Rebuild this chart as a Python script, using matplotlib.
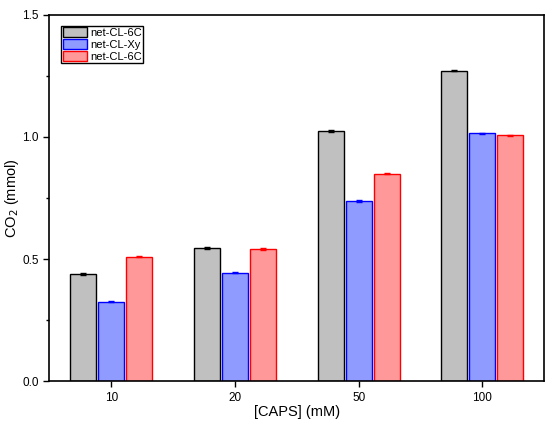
import numpy as np
import matplotlib.pyplot as plt
from matplotlib.ticker import MultipleLocator

plt.rcParams['font.family'] = ['Liberation Sans', 'DejaVu Sans']

caps = ["10", "20", "50", "100"]
cl6c_a = [0.439, 0.546, 1.025, 1.271]
cl6c_a_err = [0.003, 0.003, 0.003, 0.003]
clxy = [0.326, 0.445, 0.738, 1.014]
clxy_err = [0.003, 0.003, 0.003, 0.003]
cl6c_b = [0.510, 0.542, 0.849, 1.007]
cl6c_b_err = [0.003, 0.003, 0.002, 0.002]
labels = ["net-CL-6C", "net-CL-Xy", "net-CL-6C"]

fig = plt.figure(figsize=(5.51, 4.33), dpi=100)
ax = fig.add_axes([0.0895, 0.1194, 0.8984, 0.8466])

x = np.arange(len(caps))
w = 0.21
off = 0.226
ax.bar(x - off, cl6c_a, w, color='#c0c0c0', edgecolor='black', linewidth=1.0,
       yerr=cl6c_a_err, ecolor='black', capsize=2, label=labels[0])
ax.bar(x, clxy, w, color='#8f9bff', edgecolor='blue', linewidth=1.0,
       yerr=clxy_err, ecolor='blue', capsize=2, label=labels[1])
ax.bar(x + off, cl6c_b, w, color='#ff9999', edgecolor='red', linewidth=1.0,
       yerr=cl6c_b_err, ecolor='red', capsize=2, label=labels[2])

ax.set_xlim(-0.5, 3.5)
ax.set_ylim(0, 1.5)
ax.set_xticks(x)
ax.set_xticklabels(caps)
ax.yaxis.set_major_locator(MultipleLocator(0.5))
ax.yaxis.set_minor_locator(MultipleLocator(0.25))
ax.yaxis.set_major_formatter(plt.FormatStrFormatter('%.1f'))
ax.tick_params(axis='both', which='major', direction='out', length=4, width=1, labelsize=8.5)
ax.tick_params(axis='y', which='minor', direction='out', length=2.5, width=1)
for s in ax.spines.values():
    s.set_linewidth(1.2)

ax.set_xlabel("[CAPS] (mM)", fontsize=10.5, labelpad=1)
ax.set_ylabel("CO$_2$ (mmol)", fontsize=10.5)
ax.yaxis.set_label_coords(-0.058, 0.5)

ax.legend(loc='upper left', bbox_to_anchor=(0.02, 0.975), fontsize=8, frameon=True,
          fancybox=False, edgecolor='black', framealpha=1, handlelength=2.2,
          handleheight=1.0, borderpad=0.1, labelspacing=0.1, handletextpad=0.3,
          borderaxespad=0.2)

fig.savefig("out.png", dpi=100)
